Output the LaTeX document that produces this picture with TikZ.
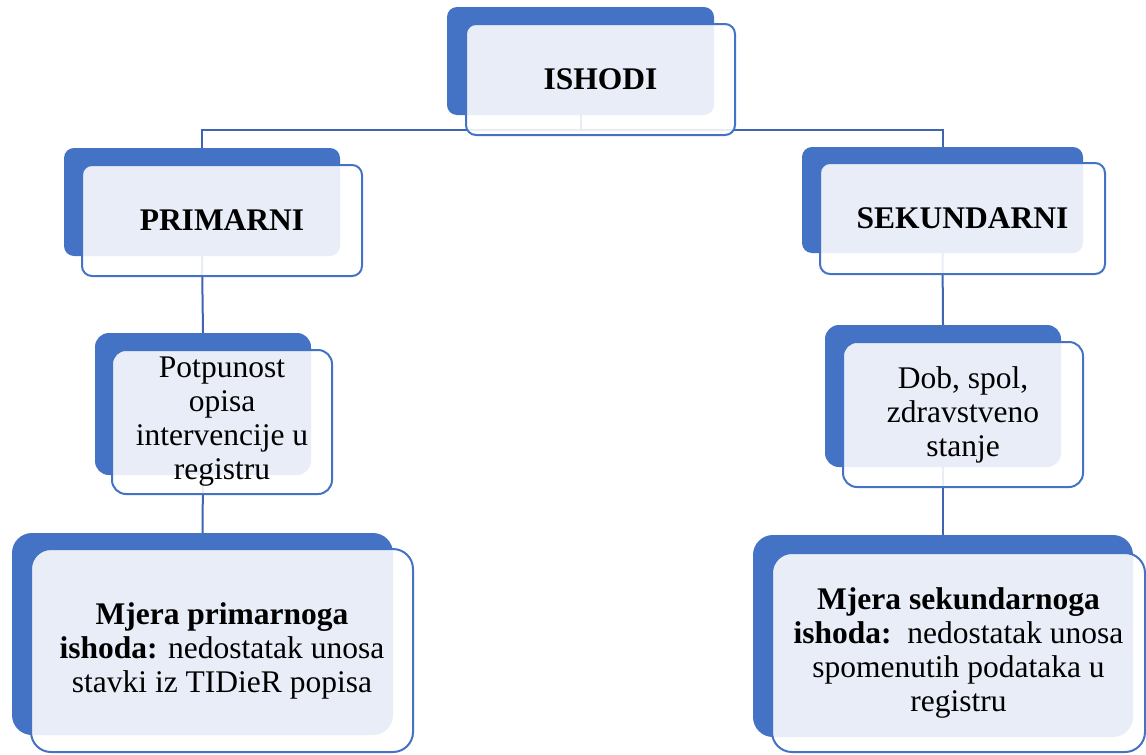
\documentclass[tikz,border=0pt]{standalone}
\usepackage{fontspec}
\setmainfont{Liberation Serif}
\usepackage{tikz}
\definecolor{boxblue}{RGB}{68,114,196}
\definecolor{linkblue}{RGB}{62,100,178}

\begin{document}
\begin{tikzpicture}[x=1pt,y=-1pt,
  back/.style={fill=boxblue, draw=none, rounded corners=#1, inner sep=0pt},
  back/.default=10pt,
  front/.style={draw=boxblue, line width=2pt, fill=white, fill opacity=0.88,
    text opacity=1, rounded corners=#1, inner sep=0pt, align=center,
    font=\fontsize{31.5}{34}\selectfont},
  front/.default=10pt,
  link/.style={draw=linkblue, line width=2pt}]
\useasboundingbox (0,0) rectangle (1146,755);
%boites du fond
\node[back] (ishodiB) at (580.5,61) [minimum width=267pt, minimum height=108pt] {};
\node[back] (primB) at (202,202) [minimum width=276pt, minimum height=108pt] {};
\node[back] (sekB) at (942.5,200) [minimum width=281pt, minimum height=106pt] {};
\node[back=14pt] (potB) at (203,404) [minimum width=216pt, minimum height=142pt] {};
\node[back=14pt] (dobB) at (943,396) [minimum width=236pt, minimum height=142pt] {};
\node[back=20pt] (mpB) at (202.5,634) [minimum width=381pt, minimum height=202pt] {};
\node[back=20pt] (msB) at (943,636) [minimum width=380pt, minimum height=202pt] {};
%liens
\coordinate (split) at (580.5,130);
\draw[link] (ishodiB.south) -- (split) -| (primB.north);
\draw[link] (split) -| (sekB.north);
\draw[link] (primB.south) -- (potB.north);
\draw[link] (potB.south) -- (mpB.north);
\draw[link] (sekB.south) -- (dobB.north);
\draw[link] (dobB.south) -- (msB.north);
%boites devant
\node[front] (ishodi) at (600.5,79.5) [minimum width=269pt, minimum height=111pt] {\textbf{ISHODI}};
\node[front] (prim) at (222,220.5) [minimum width=280pt, minimum height=111pt] {\textbf{PRIMARNI}};
\node[front] (sek) at (962.5,218.5) [minimum width=285pt, minimum height=111pt] {\textbf{SEKUNDARNI}};
\node[front=14pt] (pot) at (222,422) [minimum width=220pt, minimum height=144pt] {Potpunost\\opisa\\intervencije u\\registru};
\node[front=14pt] (dob) at (963,414.5) [minimum width=240pt, minimum height=145pt] {Dob, spol,\\zdravstveno\\stanje};
\node[front=20pt] (mp) at (222,650.5) [minimum width=382pt, minimum height=203pt] {\textbf{Mjera primarnoga}\\\textbf{ishoda:} nedostatak unosa\\stavki iz TIDieR popisa};
\node[front=20pt] (ms) at (958.5,652.5) [minimum width=373pt, minimum height=199pt] {\textbf{Mjera sekundarnoga}\\\textbf{ishoda:}\ \ nedostatak unosa\\spomenutih podataka u\\registru};
\end{tikzpicture}
\end{document}
